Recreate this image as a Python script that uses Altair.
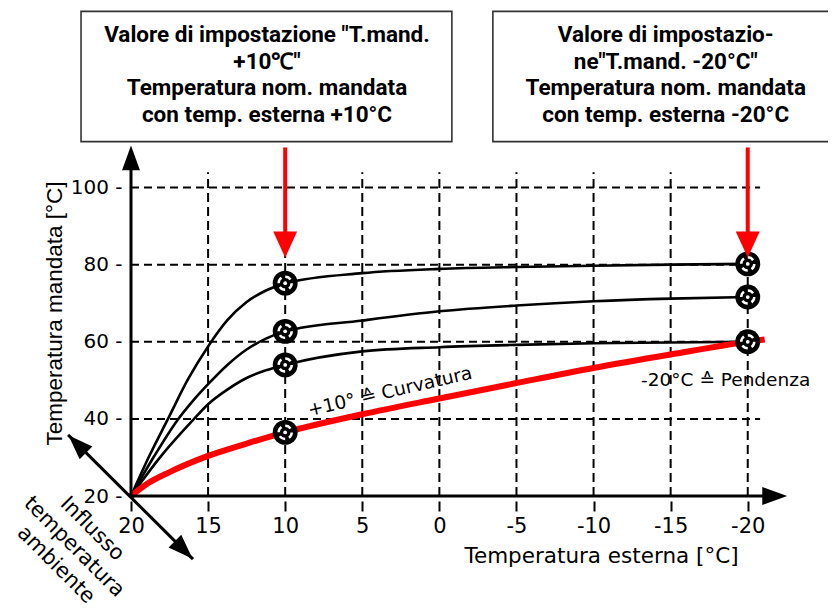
import altair as alt
import pandas as pd

# ---------------- data ----------------
top_x = [20, 18.8, 17.6, 16.3, 15, 13.75, 12.5, 11.25, 10, 5, 0, -5, -10, -15, -20]
top_y = [20, 30.5, 40, 50.3, 58.8, 65.6, 70.3, 73.3, 75.2, 77.8, 78.9, 79.4, 79.7, 80, 80.2]
mid_x = [20, 18.5, 17, 16, 15, 13.75, 12.5, 11.25, 10, 5, 0, -5, -10, -15, -20]
mid_y = [20, 30.3, 39.6, 44.6, 49, 54, 58, 60.8, 62.7, 65.5, 67.9, 69.4, 70.5, 71.2, 71.6]
low_x = [20, 18, 16, 15, 13.75, 12.5, 11.25, 10, 5, 0, -5, -10, -15, -20]
low_y = [20, 30.6, 39.6, 43.8, 47.6, 50.6, 52.6, 54, 57.5, 58.6, 59.2, 59.6, 59.8, 60]
red_x = [20, 18.9, 17.5, 15, 12.5, 10, 5, 0, -5, -10, -15, -20, -21.1]
red_y = [20, 23.3, 26.2, 30.4, 33.6, 36.5, 41.2, 45.3, 49.3, 53.2, 56.7, 60, 60.6]

marker_x = [10, 10, 10, 10, -20, -20, -20]
marker_y = [75.2, 62.7, 54, 36.5, 80.2, 71.6, 60]

x_ticks = [20, 15, 10, 5, 0, -5, -10, -15, -20]
y_ticks = [20, 40, 60, 80, 100]
vgrid_x = [15, 10, 5, 0, -5, -10, -15, -20]
hgrid_y = [40, 60, 80, 100]

box_texts = [
    "Valore di impostazione \"T.mand.\n+10\u2103\"\nTemperatura nom. mandata\ncon temp. esterna +10°C",
    "Valore di impostazio-\nne\"T.mand. -20°C\"\nTemperatura nom. mandata\ncon temp. esterna -20°C",
]
curv_label = "+10° \u2259 Curvatura"
pend_label = "-20°C \u2259 Pendenza"
infl_label = "Influsso\ntemperatura\nambiente"
x_title = "Temperatura esterna [°C]"
y_title = "Temperatura mandata [°C]"

# ---------------- annotation geometry (data units) ----------------
X_DOMAIN = [20, -23]
Y_DOMAIN = [20, 110]
boxes = pd.DataFrame({"x": [23.24, -3.47], "x2": [-0.81, -27.0],
                      "y": [111.9, 111.9], "y2": [145.7, 145.7]})
box_txt = pd.DataFrame({"x": [11.18, -14.68], "y": [139.6, 139.6], "t": box_texts})
red_arrow = pd.DataFrame({"x": [10, -20], "y": [110.4, 110.4], "y2": [87.5, 87.5],
                          "hy": [85.2, 85.2]})

PLOT_W, PLOT_H = 663, 347

xs = alt.Scale(domain=X_DOMAIN, nice=False, zero=False)
ys = alt.Scale(domain=Y_DOMAIN, nice=False, zero=False)

x_axis = alt.Axis(values=x_ticks, domain=False, grid=False, ticks=True, tickSize=16,
                  tickDash=[0, 5, 10, 40], tickColor="black", tickWidth=2,
                  labelExpr="'' + datum.value", labelFont="DejaVu Sans", labelFontSize=21,
                  labelColor="black", labelPadding=3, labelFlush=False,
                  title=x_title, titleFont="DejaVu Sans", titleFontSize=21.5,
                  titleFontWeight="normal", titleColor="black", titleX=470, titleY=60,
                  titleAlign="center", titleBaseline="middle", titleAnchor="start")
y_axis = alt.Axis(values=y_ticks, domain=False, grid=False, ticks=False,
                  labelExpr="datum.value + ' -'", labelFont="DejaVu Sans", labelFontSize=20,
                  labelColor="black", labelPadding=9, labelFlush=False,
                  title=y_title, titleFont="Liberation Sans", titleFontSize=22.5,
                  titleFontWeight="normal", titleColor="black", titleX=-77, titleY=164,
                  titleAngle=-90, titleAlign="center", titleBaseline="middle",
                  titleAnchor="start")


def X(f):
    return alt.X(f, type="quantitative", scale=xs, axis=x_axis)


def Y(f):
    return alt.Y(f, type="quantitative", scale=ys, axis=y_axis)


def curve_df(xv, yv, name):
    return pd.DataFrame({"x": xv, "y": yv, "c": name, "i": list(range(len(xv)))})


black = pd.concat([curve_df(top_x, top_y, "a"), curve_df(mid_x, mid_y, "b"),
                   curve_df(low_x, low_y, "c")])
red = curve_df(red_x, red_y, "r")
markers = pd.DataFrame({"x": marker_x, "y": marker_y})

vgrid = pd.DataFrame({"x": vgrid_x, "y": [20] * len(vgrid_x), "y2": [104] * len(vgrid_x)})
hgrid = pd.DataFrame({"y": hgrid_y, "x": [20] * len(hgrid_y), "x2": [-20.8] * len(hgrid_y)})

# grid
l_vgrid = alt.Chart(vgrid).mark_rule(color="black", strokeWidth=2, strokeDash=[9, 5]).encode(
    x=X("x"), y=Y("y"), y2="y2")
l_hgrid = alt.Chart(hgrid).mark_rule(color="black", strokeWidth=2, strokeDash=[8, 5]).encode(
    x=X("x"), x2="x2", y=Y("y"))

# curves
l_black = alt.Chart(black).mark_line(color="black", strokeWidth=2.6, interpolate="monotone").encode(
    x=X("x"), y=Y("y"), detail="c:N", order="i:Q")
l_red = alt.Chart(red).mark_line(color="#ff0000", strokeWidth=6, interpolate="monotone").encode(
    x=X("x"), y=Y("y"), order="i:Q")

# markers
l_m1 = alt.Chart(markers).mark_point(shape="circle", filled=True, color="black", size=620,
                                     opacity=1).encode(x=X("x"), y=Y("y"))
l_m2 = alt.Chart(markers).mark_point(shape="circle", filled=False, stroke="white", strokeWidth=2.5,
                                     strokeDash=[6, 4], size=170, opacity=1).encode(x=X("x"), y=Y("y"))
l_m3 = alt.Chart(markers).mark_point(shape="circle", filled=True, color="white", size=14,
                                     opacity=1).encode(x=X("x"), y=Y("y"))

# axis lines with arrows
axes_lines = pd.DataFrame({"x": [20, 20, 24.08], "x2": [-21.6, 20, 15.98],
                           "y": [20, 20, 35.84], "y2": [20, 107, 3.64]})
l_axes = alt.Chart(axes_lines).mark_rule(color="black", strokeWidth=3).encode(
    x=X("x"), x2="x2", y=Y("y"), y2="y2")
heads = pd.DataFrame({"x": [20, -21.75, 23.49, 16.58], "y": [107.7, 20, 33.45, 6.03],
                      "a": [0, 90, 315, 135]})
l_heads = alt.Chart(heads).mark_point(shape="M0,-1L0.72,1L-0.72,1Z", filled=True, color="black",
                                      size=620, opacity=1).encode(
    x=X("x"), y=Y("y"), angle=alt.Angle("a:Q", scale=None))

# red arrows
l_rarrow = alt.Chart(red_arrow).mark_rule(color="#ff0000", strokeWidth=4).encode(
    x=X("x"), y=Y("y"), y2="y2")
l_rhead = alt.Chart(red_arrow).mark_point(shape="M0,1L0.92,-1L-0.92,-1Z", filled=True,
                                          color="#ff0000", size=676, opacity=1).encode(
    x=X("x"), y=Y("hy"))

# boxes
l_box = alt.Chart(boxes).mark_rect(fill="white", stroke="#333333", strokeWidth=1.6).encode(
    x=X("x"), x2="x2", y=Y("y"), y2="y2")
l_boxt = alt.Chart(box_txt).mark_text(font="Roboto", fontWeight="bold", fontSize=22.5,
                                      lineBreak="\n", lineHeight=26.7, align="center",
                                      baseline="middle", color="black").encode(
    x=X("x"), y=Y("y"), text="t:N")

# in-plot labels
labels = pd.DataFrame({"x": [3.21, -18.57], "y": [47.1, 50.1], "t": [curv_label, pend_label],
                       "a": [347, 0]})
l_labels = alt.Chart(labels).mark_text(font="DejaVu Sans", fontSize=18.5, align="center",
                                       baseline="middle", color="black").encode(
    x=X("x"), y=Y("y"), text="t:N", angle=alt.Angle("a:Q", scale=None))
infl = pd.DataFrame({"x": [22.53], "y": [11.44], "t": [infl_label]})
l_infl = alt.Chart(infl).mark_text(font="DejaVu Sans", fontSize=21, lineBreak="\n",
                                   lineHeight=25.5, align="center", baseline="middle", angle=45,
                                   color="black").encode(x=X("x"), y=Y("y"), text="t:N")

chart = alt.layer(
    l_vgrid, l_hgrid, l_black, l_red, l_m1, l_m2, l_m3, l_axes, l_heads,
    l_rarrow, l_rhead, l_box, l_boxt, l_labels, l_infl
).properties(
    width=PLOT_W, height=PLOT_H,
    autosize=alt.AutoSizeParams(type="none"),
    padding={"left": 123, "top": 141, "right": 34, "bottom": 111},
    background="white",
).configure_view(stroke=None)

chart.save("out.html", embed_options={"renderer": "svg", "actions": False})
